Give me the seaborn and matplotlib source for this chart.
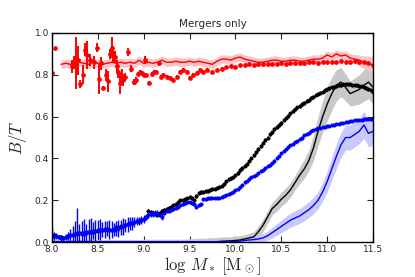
import numpy as np
import pandas as pd
import matplotlib
matplotlib.use("Agg")
import matplotlib.pyplot as plt
import seaborn as sns

sns.set_style("ticks")
plt.rcParams['font.family'] = ['DejaVu Sans']
plt.rcParams['mathtext.fontset'] = 'cm'

# mass bins (log M*)
mass = np.round(np.arange(8.0, 11.5001, 0.05), 2)
mass_fine = np.round(np.arange(8.0, 11.5001, 0.025), 3)

# dotted points: black (all) and blue, on the fine bins
black_pts = [0.03, 0.035, 0.03, 0.025, 0.025, 0.02, 0.025, 0.03, 0.035, 0.035,
             0.04, 0.04, 0.045, 0.045, 0.045, 0.05, 0.05, 0.05, 0.05, 0.055,
             0.055, 0.06, 0.06, 0.065, 0.065, 0.06, 0.06, 0.065, 0.07, 0.07,
             0.075, 0.075, 0.08, 0.085, 0.09, 0.09, 0.095, 0.10, 0.10, 0.105,
             0.11, 0.12, 0.15, 0.145, 0.14, 0.135, 0.13, 0.14, 0.15, 0.155,
             0.16, 0.165, 0.17, 0.175, 0.18, 0.19, 0.20, 0.20, 0.205, 0.21,
             0.215, 0.21, 0.20, 0.22, 0.235, 0.24, 0.24, 0.245, 0.245, 0.25,
             0.255, 0.255, 0.26, 0.265, 0.27, 0.28, 0.29, 0.30, 0.305, 0.31,
             0.32, 0.33, 0.345, 0.355, 0.365, 0.375, 0.39, 0.40, 0.415, 0.43,
             0.445, 0.46, 0.475, 0.49, 0.50, 0.515, 0.525, 0.54, 0.55, 0.56,
             0.57, 0.585, 0.595, 0.605, 0.615, 0.625, 0.635, 0.645, 0.65, 0.66,
             0.665, 0.675, 0.68, 0.69, 0.695, 0.705, 0.71, 0.715, 0.72, 0.725,
             0.73, 0.735, 0.74, 0.74, 0.745, 0.75, 0.75, 0.755, 0.755, 0.755,
             0.755, 0.75, 0.75, 0.75, 0.745, 0.745, 0.74, 0.735, 0.73, 0.725,
             0.72]
blue_pts = [0.035, 0.03, 0.03, 0.025, 0.02, 0.02, 0.025, 0.03, 0.035, 0.035,
            0.04, 0.045, 0.045, 0.04, 0.04, 0.045, 0.05, 0.05, 0.055, 0.055,
            0.06, 0.06, 0.06, 0.06, 0.065, 0.06, 0.06, 0.06, 0.065, 0.065,
            0.07, 0.075, 0.08, 0.085, 0.09, 0.09, 0.095, 0.10, 0.10, 0.105,
            0.11, 0.12, 0.13, 0.135, 0.135, 0.14, 0.14, 0.13, 0.12, 0.14,
            0.15, 0.15, 0.155, 0.16, 0.165, 0.17, 0.175, 0.18, 0.185, 0.19,
            0.19, 0.185, 0.18, 0.17, 0.175, 0.18, 0.205, 0.205, 0.21, 0.21,
            0.21, 0.21, 0.21, 0.21, 0.215, 0.22, 0.225, 0.23, 0.235, 0.24,
            0.25, 0.255, 0.265, 0.275, 0.285, 0.29, 0.30, 0.31, 0.315, 0.32,
            0.33, 0.34, 0.345, 0.355, 0.365, 0.37, 0.38, 0.39, 0.40, 0.41,
            0.425, 0.435, 0.445, 0.455, 0.465, 0.47, 0.48, 0.485, 0.495, 0.50,
            0.51, 0.515, 0.52, 0.53, 0.535, 0.54, 0.545, 0.545, 0.55, 0.55,
            0.555, 0.555, 0.56, 0.56, 0.565, 0.565, 0.57, 0.57, 0.575, 0.575,
            0.58, 0.58, 0.585, 0.585, 0.585, 0.585, 0.59, 0.59, 0.59, 0.59,
            0.59]
blue_err = [0.035, 0.02, 0.015, 0.01, 0.015, 0.01, 0.015, 0.02, 0.03, 0.04,
            0.06, 0.12, 0.04, 0.06, 0.07, 0.04, 0.06, 0.065, 0.04, 0.05,
            0.045, 0.05, 0.035, 0.04, 0.035, 0.045, 0.04, 0.03, 0.035, 0.04,
            0.035, 0.04, 0.03, 0.035, 0.03, 0.03, 0.025, 0.02, 0.02, 0.02,
            0.02, 0.015, 0.015, 0.015, 0.015, 0.012, 0.012, 0.01, 0.012, 0.01] + [0.008] * 20 + [0.005] * 71

# red points (mergers)
red_x = [8.00, 8.03, 8.22, 8.24, 8.26, 8.29, 8.31, 8.34, 8.36, 8.38, 8.41, 8.46,
         8.49, 8.51, 8.53, 8.56, 8.59, 8.61, 8.63, 8.65, 8.67, 8.69, 8.71, 8.72,
         8.74, 8.76, 8.78, 8.80, 8.83, 8.86, 8.89, 8.90, 8.92, 8.94, 8.96, 8.98,
         9.00, 9.01, 9.03, 9.06, 9.09, 9.11, 9.14, 9.17, 9.19, 9.21, 9.25, 9.29,
         9.32, 9.36, 9.40, 9.43, 9.47, 9.50, 9.54, 9.58, 9.61, 9.65, 9.69,
         9.75, 9.80, 9.85, 9.90, 9.95, 10.00, 10.05, 10.10, 10.15, 10.20, 10.25,
         10.30, 10.35, 10.40, 10.45, 10.50, 10.55, 10.60, 10.65, 10.70, 10.75,
         10.80, 10.85, 10.90, 10.95, 11.00, 11.05, 11.10, 11.15, 11.20, 11.25,
         11.30, 11.35, 11.40, 11.45, 11.50]
red_y = [0.81, 0.93, 0.84, 0.86, 0.855, 0.87, 0.755, 0.80, 0.92, 0.895, 0.87, 0.86,
         0.93, 0.78, 0.855, 0.735, 0.80, 0.77, 0.90, 0.93, 0.90, 0.885, 0.84, 0.815,
         0.76, 0.79, 0.775, 0.79, 0.91, 0.83, 0.765, 0.765, 0.775, 0.805, 0.815, 0.81,
         0.80, 0.87, 0.80, 0.76, 0.805, 0.815, 0.815, 0.855, 0.79, 0.80, 0.79, 0.785,
         0.775, 0.79, 0.815, 0.825, 0.815, 0.785, 0.80, 0.81, 0.825, 0.815, 0.825,
         0.815, 0.825, 0.83, 0.835, 0.84, 0.835, 0.845, 0.845, 0.85, 0.845, 0.85,
         0.85, 0.85, 0.85, 0.85, 0.855, 0.85, 0.855, 0.855, 0.855, 0.855,
         0.86, 0.86, 0.855, 0.86, 0.86, 0.86, 0.86, 0.865, 0.86, 0.86,
         0.865, 0.86, 0.86, 0.855, 0.845]
red_err = [0.045, 0.0, 0.03, 0.03, 0.125, 0.07, 0.02, 0.045, 0.03, 0.065, 0.03, 0.03,
           0.02, 0.07, 0.03, 0.01, 0.03, 0.05, 0.025, 0.05, 0.04, 0.03, 0.03, 0.03,
           0.05, 0.04, 0.03, 0.02, 0.02, 0.015, 0.015, 0.015, 0.015, 0.01, 0.01, 0.01,
           0.01, 0.02, 0.01, 0.01, 0.01, 0.01, 0.01, 0.01, 0.01, 0.01, 0.008, 0.008,
           0.008, 0.008, 0.008, 0.008, 0.008, 0.008, 0.008, 0.008, 0.008, 0.008, 0.008] + [0.005] * 36

# solid lines with shaded ranges
black_line = [0.002] * 37 + [0.004, 0.005, 0.006, 0.008, 0.01, 0.015, 0.02, 0.025,
              0.05, 0.08, 0.12, 0.16, 0.18, 0.205, 0.225, 0.25, 0.285, 0.32, 0.35,
              0.39, 0.45, 0.53, 0.60, 0.66, 0.71, 0.75, 0.765, 0.74, 0.71, 0.72,
              0.73, 0.75, 0.765, 0.74]
black_band = [0.01] * 20 + [0.012] * 10 + [0.014, 0.015, 0.016, 0.017, 0.018, 0.019, 0.02, 0.02,
              0.02, 0.02, 0.02, 0.02, 0.02, 0.022, 0.025, 0.027, 0.03, 0.03,
              0.03, 0.032, 0.034, 0.035, 0.035, 0.035, 0.04, 0.045, 0.05, 0.06,
              0.07, 0.075, 0.08, 0.08, 0.075, 0.07, 0.065, 0.06, 0.065, 0.07, 0.075, 0.08, 0.08]
blue_line = [0.002] * 40 + [0.003, 0.005, 0.008, 0.01, 0.012, 0.015, 0.02, 0.03,
             0.045, 0.06, 0.075, 0.09, 0.105, 0.115, 0.125, 0.14, 0.155, 0.175,
             0.20, 0.24, 0.29, 0.35, 0.41, 0.465, 0.50, 0.50, 0.515, 0.53, 0.56, 0.52, 0.53]
blue_band = [0.008] * 40 + [0.01, 0.01, 0.012, 0.014, 0.016, 0.018, 0.02, 0.022,
             0.025, 0.028, 0.03, 0.032, 0.034, 0.035, 0.036, 0.037, 0.038, 0.04,
             0.04, 0.045, 0.05, 0.055, 0.06, 0.06, 0.06, 0.06, 0.06, 0.06,
             0.065, 0.065, 0.065]
red_line_x = mass[2:]
red_line = [0.85, 0.855, 0.85, 0.855, 0.86, 0.855, 0.85, 0.86, 0.855, 0.85,
            0.855, 0.86, 0.855, 0.86, 0.855, 0.86, 0.855, 0.87, 0.855, 0.86,
            0.855, 0.86, 0.87, 0.86, 0.86, 0.865, 0.86, 0.86, 0.865, 0.86,
            0.865, 0.86, 0.855, 0.85, 0.865, 0.875, 0.875, 0.87, 0.88, 0.885,
            0.875, 0.87, 0.865, 0.86, 0.86, 0.865, 0.87, 0.87, 0.865, 0.865,
            0.87, 0.87, 0.865, 0.865, 0.87, 0.875, 0.875, 0.88, 0.895, 0.885,
            0.90, 0.89, 0.895, 0.88, 0.875, 0.87, 0.86, 0.855, 0.845]
red_band = [0.02] * 64 + [0.022, 0.025, 0.03, 0.035, 0.04]

lines = pd.DataFrame({"mass": mass, "black": black_line, "blue": blue_line})

fig = plt.figure(figsize=(4.15, 2.77), dpi=100)
ax = fig.add_axes([0.125, 0.126, 0.774, 0.755])

# shaded ranges
ax.fill_between(mass, np.array(black_line) - black_band, np.array(black_line) + black_band,
                color="#c8c8c8", lw=0, zorder=1)
ax.fill_between(mass, np.array(blue_line) - blue_band, np.array(blue_line) + blue_band,
                color="#c4c4fb", lw=0, alpha=0.9, zorder=1)
ax.fill_between(red_line_x, np.array(red_line) - red_band, np.array(red_line) + red_band,
                color="#fbc4c8", lw=0, zorder=1)

sns.lineplot(data=lines, x="mass", y="black", color="black", lw=1, ax=ax, zorder=3)
sns.lineplot(data=lines, x="mass", y="blue", color="blue", lw=1, ax=ax, zorder=3)
sns.lineplot(x=red_line_x, y=red_line, color="red", lw=1, ax=ax, zorder=3)

# points with error bars
ax.errorbar(mass_fine, black_pts, yerr=0.008, fmt="o", color="black", ms=1.9,
            mec="black", elinewidth=1.0, capsize=0, zorder=4)
ax.errorbar(mass_fine, blue_pts, yerr=blue_err, fmt="o", color="blue", ms=1.9,
            mec="blue", elinewidth=1.0, capsize=0, zorder=5)
ax.errorbar(red_x, red_y, yerr=red_err, fmt="o", color="red", ms=2.4,
            mec="red", elinewidth=1.4, capsize=0, zorder=5)

ax.set_xlim(8.0, 11.5)
ax.set_ylim(0.0, 1.0)
ax.set_xticks([8.0, 8.5, 9.0, 9.5, 10.0, 10.5, 11.0, 11.5])
ax.set_yticks([0.0, 0.2, 0.4, 0.6, 0.8, 1.0])
ax.tick_params(direction="in", length=4, width=0.8, labelsize=6.5,
               top=True, right=True, pad=2)
for s in ax.spines.values():
    s.set_linewidth(1.0)
    s.set_color("black")
    s.set_zorder(6)

ax.set_xlabel(r"$\log\,M_*\;[\mathrm{M}_\odot]$", fontsize=12, labelpad=1)
ax.set_ylabel(r"$B/T$", fontsize=12, labelpad=4)
ax.set_title("Mergers only", fontsize=7.5, pad=4)

fig.savefig("out.png", dpi=100)
